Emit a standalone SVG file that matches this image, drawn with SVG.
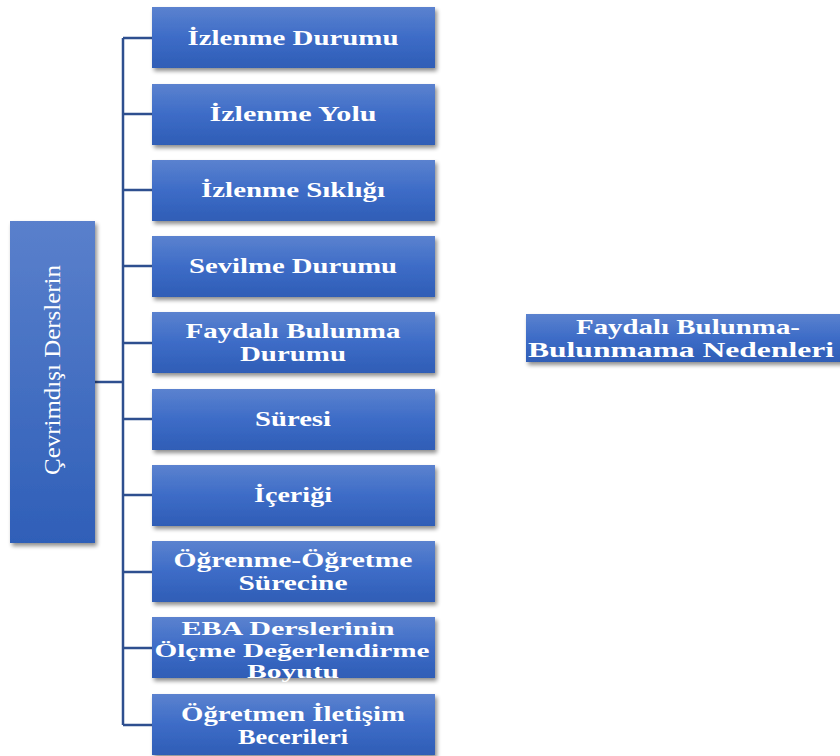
<svg xmlns="http://www.w3.org/2000/svg" width="840" height="756" viewBox="0 0 840 756">
  <defs>
    <linearGradient id="boxFill" x1="0" y1="0" x2="0" y2="1">
      <stop offset="0" stop-color="#5b82cf"/>
      <stop offset="0.5" stop-color="#3d6cc7"/>
      <stop offset="1" stop-color="#2f5db6"/>
    </linearGradient>
    <linearGradient id="rootFill" x1="0" y1="0" x2="0" y2="1">
      <stop offset="0" stop-color="#5a80cc"/>
      <stop offset="1" stop-color="#2f5fb8"/>
    </linearGradient>
    <filter id="shadow" x="-10%" y="-10%" width="120%" height="130%">
      <feGaussianBlur in="SourceAlpha" stdDeviation="2"/>
      <feOffset dx="2" dy="3" result="b"/>
      <feComponentTransfer><feFuncA type="linear" slope="0.45"/></feComponentTransfer>
      <feMerge><feMergeNode/><feMergeNode in="SourceGraphic"/></feMerge>
    </filter>
  </defs>
  <style>
    .box { fill: url(#boxFill); filter: url(#shadow); }
    .root { fill: url(#rootFill); filter: url(#shadow); }
    .lbl { font-family: "Liberation Serif", "Times New Roman", serif; font-weight: bold; font-size: 22px; fill: #ffffff; text-anchor: middle; }
    .sm { font-size: 19px; }
    .rootlbl { font-family: "Liberation Serif", "Times New Roman", serif; font-size: 24px; fill: #ffffff; text-anchor: middle; }
    .conn { fill: none; stroke: #2e4f8f; stroke-width: 2.5; }
  </style>
  <rect width="840" height="756" fill="#ffffff"/>

  <g id="connectors">
    <path class="conn" d="M95,382 H123"/>
    <path class="conn" d="M123,38 V725"/>
    <path class="conn" d="M123,38 H152 M123,114 H152 M123,190 H152 M123,266 H152 M123,343 H152 M123,419 H152 M123,495 H152 M123,572 H152 M123,648 H152 M123,725 H152"/>
  </g>

  <g id="root">
    <rect class="root" x="10" y="221" width="85" height="322"/>
    <text class="rootlbl" transform="translate(60,370) rotate(-90)" textLength="210" lengthAdjust="spacingAndGlyphs">Çevrimdışı Derslerin</text>
  </g>

  <g id="izlenme-durumu">
    <rect class="box" x="152" y="7" width="283" height="61"/>
    <text class="lbl" x="293" y="45" textLength="211" lengthAdjust="spacingAndGlyphs">İzlenme Durumu</text>
  </g>
  <g id="izlenme-yolu">
    <rect class="box" x="152" y="84" width="283" height="61"/>
    <text class="lbl" x="293" y="121" textLength="167" lengthAdjust="spacingAndGlyphs">İzlenme Yolu</text>
  </g>
  <g id="izlenme-sikligi">
    <rect class="box" x="152" y="160" width="283" height="61"/>
    <text class="lbl" x="293" y="197" textLength="184" lengthAdjust="spacingAndGlyphs">İzlenme Sıklığı</text>
  </g>
  <g id="sevilme-durumu">
    <rect class="box" x="152" y="236" width="283" height="61"/>
    <text class="lbl" x="293" y="273" textLength="208" lengthAdjust="spacingAndGlyphs">Sevilme Durumu</text>
  </g>
  <g id="faydali-bulunma-durumu">
    <rect class="box" x="152" y="312" width="283" height="61"/>
    <text class="lbl" x="293" y="338" textLength="215" lengthAdjust="spacingAndGlyphs">Faydalı Bulunma</text>
    <text class="lbl" x="293" y="361" textLength="106" lengthAdjust="spacingAndGlyphs">Durumu</text>
  </g>
  <g id="suresi">
    <rect class="box" x="152" y="389" width="283" height="61"/>
    <text class="lbl" x="293" y="426" textLength="76" lengthAdjust="spacingAndGlyphs">Süresi</text>
  </g>
  <g id="icerigi">
    <rect class="box" x="152" y="465" width="283" height="61"/>
    <text class="lbl" x="293" y="502" textLength="78" lengthAdjust="spacingAndGlyphs">İçeriği</text>
  </g>
  <g id="ogrenme-ogretme">
    <rect class="box" x="152" y="541" width="283" height="61"/>
    <text class="lbl" x="293" y="567" textLength="239" lengthAdjust="spacingAndGlyphs">Öğrenme-Öğretme</text>
    <text class="lbl" x="293" y="590" textLength="109" lengthAdjust="spacingAndGlyphs">Sürecine</text>
  </g>
  <g id="eba-olcme">
    <rect class="box" x="152" y="617" width="283" height="61"/>
    <text class="lbl sm" x="288" y="635" textLength="213" lengthAdjust="spacingAndGlyphs">EBA Derslerinin</text>
    <text class="lbl sm" x="292" y="657" textLength="275" lengthAdjust="spacingAndGlyphs">Ölçme Değerlendirme</text>
    <text class="lbl sm" x="293" y="678" textLength="92" lengthAdjust="spacingAndGlyphs">Boyutu</text>
  </g>
  <g id="iletisim-becerileri">
    <rect class="box" x="152" y="694" width="283" height="61"/>
    <text class="lbl" x="293" y="721" textLength="224" lengthAdjust="spacingAndGlyphs">Öğretmen İletişim</text>
    <text class="lbl" x="293" y="744" textLength="110" lengthAdjust="spacingAndGlyphs">Becerileri</text>
  </g>

  <g id="nedenler">
    <rect class="box" x="526" y="314" width="318" height="48"/>
    <text class="lbl" x="688" y="334" textLength="224" lengthAdjust="spacingAndGlyphs">Faydalı Bulunma-</text>
    <text class="lbl" x="681" y="357" textLength="306" lengthAdjust="spacingAndGlyphs">Bulunmama Nedenleri</text>
  </g>
</svg>
